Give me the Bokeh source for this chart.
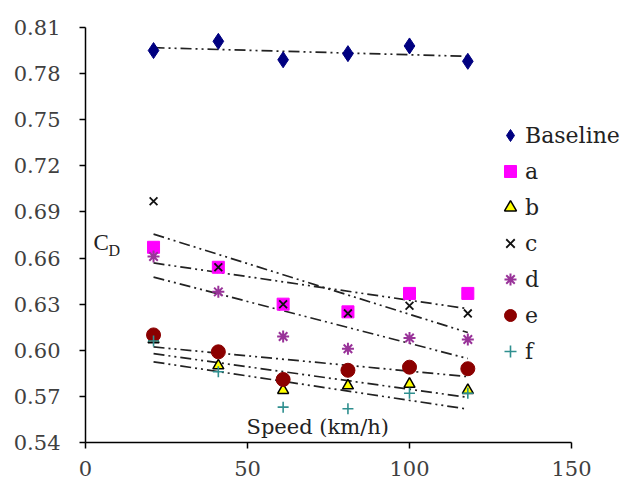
import numpy as np
from bokeh.plotting import figure
from bokeh.models import Range1d, FixedTicker, Label, Legend, LegendItem, CustomJSTickFormatter
from bokeh.embed import file_html
from bokeh.resources import INLINE

speed = [21, 41, 61, 81, 100, 118]
baseline = [0.795, 0.801, 0.789, 0.793, 0.798, 0.788]
a = [0.667, 0.654, 0.630, 0.625, 0.637, 0.637]
b = [0.607, 0.590, 0.574, 0.577, 0.578, 0.574]
c = [0.697, 0.654, 0.630, 0.624, 0.629, 0.624]
d = [0.661, 0.638, 0.609, 0.601, 0.608, 0.607]
e = [0.610, 0.599, 0.581, 0.587, 0.589, 0.588]
f = [0.606, 0.586, 0.563, 0.562, 0.572, 0.572]
y_ticks = [0.54, 0.57, 0.60, 0.63, 0.66, 0.69, 0.72, 0.75, 0.78, 0.81]
x_ticks = [0, 50, 100, 150]

FONT = "DejaVu Serif"
SERIF = "Liberation Serif"

p = figure(width=641, height=487, output_backend="svg", toolbar_location=None,
           x_range=Range1d(0, 150 * 556 / 486), y_range=Range1d(0.54, 0.81),
           min_border_left=85, min_border_right=0, min_border_top=27, min_border_bottom=45)
p.grid.visible = False
p.outline_line_color = None
p.background_fill_color = "white"

for ax in (p.xaxis[0], p.yaxis[0]):
    ax.axis_line_color = "black"
    ax.axis_line_width = 1.5
    ax.major_tick_line_color = "black"
    ax.major_tick_line_width = 1.5
    ax.major_tick_out = 6
    ax.major_tick_in = 0
    ax.minor_tick_line_color = None
    ax.major_label_text_font = FONT
    ax.major_label_text_font_size = "21px"
    ax.major_label_text_color = "#404040"

p.xaxis.bounds = (0, 150)
p.xaxis.ticker = FixedTicker(ticks=x_ticks)
p.yaxis.ticker = FixedTicker(ticks=y_ticks)
p.yaxis.formatter = CustomJSTickFormatter(code="return tick.toFixed(2);")
p.xaxis.major_label_standoff = 12
p.yaxis.major_label_standoff = 19

series = [
    ("Baseline", baseline, dict(marker="diamond", size=16, fill_color="#000080", line_color="#000080")),
    ("a", a, dict(marker="square", size=12, fill_color="#ff00ff", line_color="#ff00ff")),
    ("b", b, dict(marker="triangle", size=11, fill_color="#ffff00", line_color="black", line_width=1.5)),
    ("c", c, dict(marker="x", size=11, line_color="#111111", line_width=1.8)),
    ("d", d, dict(marker="asterisk", size=12, line_color="#993399", line_width=2)),
    ("e", e, dict(marker="circle", size=14, fill_color="#8b0000", line_color="#8b0000")),
    ("f", f, dict(marker="cross", size=11, line_color="#2f8f8f", line_width=1.6)),
]

xs = np.array(speed, dtype=float)
for name, ys, _ in series:
    k, m = np.polyfit(xs, np.array(ys), 1)
    xe = [xs.min(), xs.max()]
    p.line(xe, [k * xe[0] + m, k * xe[1] + m], line_color="#222222", line_width=1.7,
           line_dash="11 4 2 4 2 4")

items = []
for name, ys, style in series:
    r = p.scatter(speed, ys, **style)
    items.append(LegendItem(label=name, renderers=[r]))

legend = Legend(items=items, location=(410, 76), border_line_color=None,
                background_fill_alpha=0, label_text_font=FONT,
                label_text_font_size="22px", label_text_color="#222222",
                glyph_width=30, glyph_height=30, label_height=30, spacing=6,
                padding=0, margin=0, label_standoff=0)
p.add_layout(legend, "center")

p.add_layout(Label(x=8, y=188, x_units="screen", y_units="screen", text="C",
                   text_font=SERIF, text_font_size="23px", text_color="#222222"))
p.add_layout(Label(x=23, y=184, x_units="screen", y_units="screen", text="D",
                   text_font=SERIF, text_font_size="16px", text_color="#222222"))
p.add_layout(Label(x=161, y=4, x_units="screen", y_units="screen", text="Speed (km/h)",
                   text_font=FONT, text_font_size="21px", text_color="#222222"))

open("out.html", "w").write(file_html(p, INLINE))
